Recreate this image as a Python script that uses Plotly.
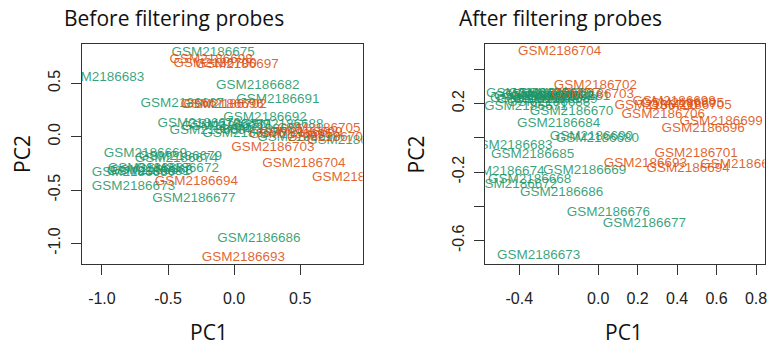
import plotly.graph_objects as go

# ---------------- data ----------------
green_labels = ["GSM2186%d" % i for i in range(667, 693)]
orange_labels = ["GSM2186%d" % i for i in range(693, 707)]

before_green_pc1 = [-0.392, -0.625, -0.671, -0.264, -0.083, -0.430, -0.761, -0.437, -0.158, 0.075,
                    -0.304, 0.867, -0.407, -0.761, -0.648, 0.179, -0.995, -0.173, 0.203, 0.188,
                    -0.641, 0.362, -0.038, 0.490, 0.332, 0.234]
before_green_pc2 = [0.306, -0.321, -0.156, 0.126, 0.094, -0.303, -0.469, -0.209, 0.787, 0.025,
                    -0.584, -0.040, -0.187, -0.334, -0.331, 0.475, 0.553, 0.053, 0.063, -0.959,
                    -0.303, 0.110, 0.110, -0.012, 0.344, 0.182]
before_orange_pc1 = [0.070, -0.286, 0.430, -0.090, 0.023, -0.173, 0.505, -0.143, 0.716, -0.068,
                     0.294, 0.528, 0.641, 0.904]
before_orange_pc2 = [-1.130, -0.422, 0.016, 0.304, 0.672, 0.719, 0.037, 0.686, -0.012, 0.297,
                     -0.099, -0.251, 0.079, -0.387]

after_green_pc1 = [-0.195, -0.347, -0.069, -0.135, -0.367, -0.418, -0.302, -0.483, -0.357, 0.052,
                   0.234, -0.306, -0.246, -0.004, -0.150, -0.317, -0.443, -0.200, -0.332, -0.185,
                   -0.337, -0.251, -0.215, -0.034, -0.276, -0.231]
after_green_pc2 = [0.255, -0.241, -0.192, 0.151, 0.182, -0.275, -0.689, -0.198, 0.255, -0.437,
                   -0.503, 0.225, 0.257, -0.003, 0.243, 0.243, -0.043, 0.084, -0.101, -0.320,
                   0.231, 0.204, 0.225, 0.004, 0.252, 0.240]
after_orange_pc1 = [0.239, 0.456, 0.426, 0.532, 0.729, 0.385, 0.623, 0.294, 0.496, -0.014,
                    -0.029, -0.195, 0.466, 0.330]
after_orange_pc2 = [-0.149, -0.178, 0.202, 0.055, -0.159, 0.210, 0.093, 0.185, -0.091, 0.303,
                    0.253, 0.501, 0.190, 0.138]

left_x_ticks = [-1.0, -0.5, 0.0, 0.5]
left_x_text = ["-1.0", "-0.5", "0.0", "0.5"]
left_y_ticks = [-1.0, -0.5, 0.0, 0.5]
left_y_text = ["-1.0", "-0.5", "0.0", "0.5"]
right_x_ticks = [-0.4, -0.2, 0.0, 0.2, 0.4, 0.6, 0.8]
right_x_text = ["-0.4", "", "0.0", "0.2", "0.4", "0.6", "0.8"]
right_y_ticks = [-0.6, -0.4, -0.2, 0.0, 0.2, 0.4]
right_y_text = ["-0.6", "", "-0.2", "", "0.2", ""]

GREEN = "rgba(27,150,105,0.88)"
ORANGE = "rgba(220,80,15,0.88)"
W, H = 772, 345

fig = go.Figure()

def add_text(x, y, labels, color, xa, ya):
    fig.add_trace(go.Scatter(
        x=x, y=y, text=labels, mode="text", textposition="middle center",
        textfont=dict(family="Liberation Sans, Arial", size=13.5, color=color),
        xaxis=xa, yaxis=ya, showlegend=False, hoverinfo="skip", cliponaxis=True))

add_text(before_green_pc1, before_green_pc2, green_labels, GREEN, "x", "y")
add_text(before_orange_pc1, before_orange_pc2, orange_labels, ORANGE, "x", "y")
add_text(after_green_pc1, after_green_pc2, green_labels, GREEN, "x2", "y2")
add_text(after_orange_pc1, after_orange_pc2, orange_labels, ORANGE, "x2", "y2")

axis_common = dict(showgrid=False, zeroline=False, showline=True, mirror=True,
                   linecolor="#333", linewidth=1.3, ticks="outside", ticklen=10,
                   tickwidth=1, tickcolor="#333",
                   tickfont=dict(family="Liberation Sans, Arial", size=16, color="#222"))

fig.update_layout(
    width=W, height=H, margin=dict(l=0, r=0, t=0, b=0),
    paper_bgcolor="white", plot_bgcolor="white",
    xaxis=dict(axis_common, domain=[82 / W, 364 / W], range=[-1.153, 0.972],
               tickvals=left_x_ticks, ticktext=left_x_text, anchor="y", ticklabelstandoff=10),
    yaxis=dict(axis_common, domain=[1 - 264 / H, 1 - 44 / H], range=[-1.193, 0.869],
               tickvals=left_y_ticks, ticktext=left_y_text, tickangle=-90, anchor="x",
               ticklabelstandoff=4),
    xaxis2=dict(axis_common, domain=[487 / W, 767.5 / W], range=[-0.573, 0.843],
                tickvals=right_x_ticks, ticktext=right_x_text, anchor="y2", ticklabelstandoff=10),
    yaxis2=dict(axis_common, domain=[1 - 264 / H, 1 - 43.5 / H], range=[-0.736, 0.55],
                tickvals=right_y_ticks, ticktext=right_y_text, tickangle=-90, anchor="x2",
                ticklabelstandoff=4),
)

title_font = dict(family="Open Sans", size=21, color="#111")
label_font = dict(family="Open Sans", size=21, color="#111")

def ann(text, px, py, font, angle=0):
    fig.add_annotation(text=text, x=px / W, y=1 - py / H, xref="paper", yref="paper",
                       showarrow=False, font=font, textangle=angle,
                       xanchor="center", yanchor="middle")

ann("Before filtering probes", 175, 18, title_font)
ann("After filtering probes", 563, 18, title_font)
ann("PC1", 210, 332, label_font)
ann("PC1", 626, 332, label_font)
ann("PC2", 22, 154, label_font, -90)
ann("PC2", 418, 154, label_font, -90)

fig.write_html("out.html")
